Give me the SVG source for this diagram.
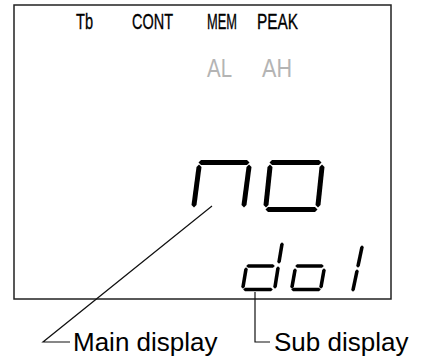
<svg xmlns="http://www.w3.org/2000/svg" width="426" height="360" viewBox="0 0 426 360">
<style>
.ind{font-family:"Liberation Sans",Arial,sans-serif;font-size:21.5px;fill:#000;stroke:#000;stroke-width:0.35}
.gray{font-family:"Liberation Sans",Arial,sans-serif;font-size:26px;fill:#b4b4b4}
.lbl{font-family:"Liberation Sans",Arial,sans-serif;font-size:26px;fill:#000}
.seg{fill:#000}
.lead{fill:none;stroke:#111;stroke-width:1.2}
</style>
<rect width="426" height="360" fill="#fff"/>
<g id="panel">
<rect x="14" y="5" width="377" height="294" fill="#fff" stroke="#222" stroke-width="1.5"/>
<text class="ind" x="76" y="29" textLength="17" lengthAdjust="spacingAndGlyphs">Tb</text>
<text class="ind" x="132" y="29" textLength="41" lengthAdjust="spacingAndGlyphs">CONT</text>
<text class="ind" x="207" y="29" textLength="30" lengthAdjust="spacingAndGlyphs">MEM</text>
<text class="ind" x="257" y="29" textLength="41" lengthAdjust="spacingAndGlyphs">PEAK</text>
<text class="gray" x="207" y="77" textLength="25" lengthAdjust="spacingAndGlyphs">AL</text>
<text class="gray" x="262" y="77" textLength="30" lengthAdjust="spacingAndGlyphs">AH</text>
</g>
<g id="main-display">
<polygon class="seg" points="198.5,162.5 201,160 247,160 249.5,162.5 247,165 201,165"/>
<polygon class="seg" points="199,164.5 201.5,167 196.5,205 194,207.5 191.5,205 196.5,167"/>
<polygon class="seg" points="249,164.5 251.5,167 246.5,205 244,207.5 241.5,205 246.5,167"/>
<polygon class="seg" points="269.5,162.5 272,160 319,160 321.5,162.5 319,165 272,165"/>
<polygon class="seg" points="270,164.5 272.5,167 268.5,205 266,207.5 263.5,205 267.5,167"/>
<polygon class="seg" points="322,164.5 324.5,167 320.5,205 318,207.5 315.5,205 319.5,167"/>
<polygon class="seg" points="265.5,209.5 268,207 315,207 317.5,209.5 315,212 268,212"/>
</g>
<g id="sub-display">
<polygon class="seg" points="282,242.2 283.8,244 280.8,262 279,263.8 277.2,262 280.2,244"/>
<polygon class="seg" points="278,266.2 279.8,268 276.8,287 275,288.8 273.2,287 276.2,268"/>
<polygon class="seg" points="246.2,266 248,264.2 273,264.2 274.8,266 273,267.8 248,267.8"/>
<polygon class="seg" points="246,267.2 247.8,269 244.8,287 243,288.8 241.2,287 244.2,269"/>
<polygon class="seg" points="243.2,289.5 245,287.7 271,287.7 272.8,289.5 271,291.3 245,291.3"/>
<polygon class="seg" points="295.2,266 297,264.2 322,264.2 323.8,266 322,267.8 297,267.8"/>
<polygon class="seg" points="295,268.2 296.8,270 293.8,287 292,288.8 290.2,287 293.2,270"/>
<polygon class="seg" points="324,268.2 325.8,270 322.8,287 321,288.8 319.2,287 322.2,270"/>
<polygon class="seg" points="291.2,289.5 293,287.7 319,287.7 320.8,289.5 319,291.3 293,291.3"/>
<polygon class="seg" points="362,245.2 363.8,247 359.8,266 358,267.8 356.2,266 360.2,247"/>
<polygon class="seg" points="357,269.2 358.8,271 354.8,290 353,291.8 351.2,290 355.2,271"/>
</g>
<g id="connectors">
<polyline class="lead" points="212,206 43,342 70,342"/>
<polyline class="lead" points="255,292 255,342 270,342" stroke="#333"/>
</g>
<g id="label-main"><text class="lbl" x="73" y="351">Main display</text></g>
<g id="label-sub"><text class="lbl" x="274" y="351">Sub display</text></g>
</svg>
